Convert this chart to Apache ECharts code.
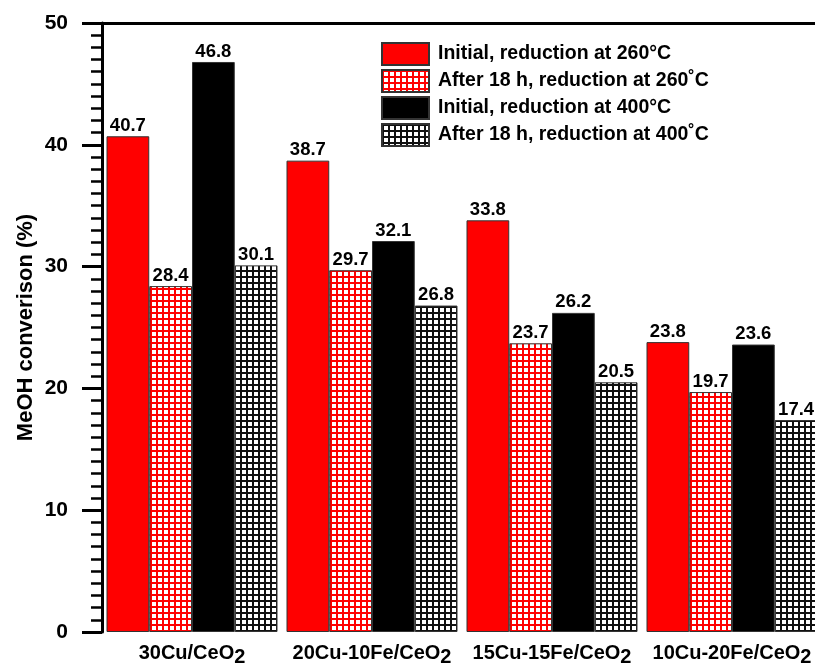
<!DOCTYPE html>
<html>
<head>
<meta charset="utf-8">
<script src="https://cdn.jsdelivr.net/npm/echarts@6/dist/echarts.min.js"></script>
<style>html,body{margin:0;padding:0;background:#fff;overflow:hidden}#c{width:830px;height:664px}</style>
</head>
<body>
<div id="c"></div>
<script>
const categories = ['30Cu/CeO2', '20Cu-10Fe/CeO2', '15Cu-15Fe/CeO2', '10Cu-20Fe/CeO2'];
const seriesNames = ['Initial, reduction at 260°C', 'After 18 h, reduction at 260˚C', 'Initial, reduction at 400°C', 'After 18 h, reduction at 400˚C'];
const init260 = [40.7, 38.7, 33.8, 23.8];
const after260 = [28.4, 29.7, 23.7, 19.7];
const init400 = [46.8, 32.1, 26.2, 23.6];
const after400 = [30.1, 26.8, 20.5, 17.4];
const yTicks = [0, 10, 20, 30, 40, 50];

function gridPattern(lineColor) {
  const c = document.createElement('canvas');
  c.width = 6; c.height = 6;
  const g = c.getContext('2d');
  g.fillStyle = '#ffffff'; g.fillRect(0, 0, 6, 6);
  g.fillStyle = lineColor;
  g.fillRect(0, 0, 6, 2);
  g.fillRect(0, 0, 2, 6);
  return { image: c, repeat: 'repeat' };
}

const F = '"Liberation Sans", Arial, sans-serif';
const chart = echarts.init(document.getElementById('c'), null, { renderer: 'canvas' });

const fills = ['#ff0000', gridPattern('#ff0000'), '#000000', gridPattern('#111111')];
const datas = [init260, after260, init400, after400];

const series = datas.map((d, i) => ({
  name: seriesNames[i],
  type: 'bar',
  data: d,
  barGap: '0%',
  barCategoryGap: '5%',
  itemStyle: { color: fills[i], borderColor: '#333', borderWidth: 1 },
  label: {
    show: true, position: 'top', distance: 1,
    fontFamily: F, fontWeight: 'bold', fontSize: 18.5, color: '#000',
    formatter: p => p.value.toFixed(1)
  }
}));

chart.setOption({
  animation: false,
  backgroundColor: '#fff',
  grid: { left: 102, right: 8, top: 23, bottom: 32, containLabel: false, outerBoundsMode: 'none' },
  legend: {
    orient: 'vertical', left: 381, top: 42, padding: 0,
    icon: 'rect',
    itemWidth: 47, itemHeight: 22, itemGap: 3,
    textStyle: { fontFamily: F, fontWeight: 'bold', fontSize: 19.5, lineHeight: 22, color: '#000', padding: [0, 0, 0, 4] },
    data: seriesNames
  },
  xAxis: [{
    type: 'category', data: categories, position: 'bottom',
    axisLine: { show: false }, axisTick: { show: false },
    axisLabel: {
      margin: 7,
      formatter: v => {
        const base = v.replace(/2$/, '');
        return '{m|' + base + '}{s|2}';
      },
      rich: {
        m: { fontFamily: F, fontWeight: 'bold', fontSize: 20, color: '#000', lineHeight: 28, verticalAlign: 'middle' },
        s: { fontFamily: F, fontWeight: 'bold', fontSize: 20, color: '#000', lineHeight: 20, verticalAlign: 'bottom' }
      }
    }
  }, {
    type: 'category', data: categories, position: 'top',
    axisLine: { show: true, lineStyle: { color: '#000', width: 3 } },
    axisTick: { show: false }, axisLabel: { show: false }
  }],
  yAxis: {
    type: 'value', min: yTicks[0], max: yTicks[yTicks.length - 1], interval: 10,
    name: 'MeOH converison (%)', nameLocation: 'middle', nameGap: 65, nameMoveOverlap: false,
    nameTextStyle: { fontFamily: F, fontWeight: 'bold', fontSize: 22, color: '#000' },
    axisLine: { show: true, lineStyle: { color: '#000', width: 3 } },
    axisTick: { show: true, inside: false, length: 20, lineStyle: { color: '#000', width: 3 } },
    minorTick: { show: true, splitNumber: 10, length: 11, lineStyle: { color: '#000', width: 2.5 } },
    splitLine: { show: false },
    axisLabel: { margin: 34, fontFamily: F, fontWeight: 'bold', fontSize: 21, color: '#000' }
  },
  series: series
});
</script>
</body>
</html>
